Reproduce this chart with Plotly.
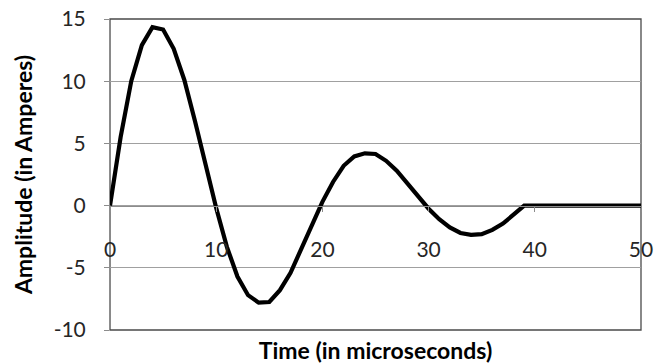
import plotly.graph_objects as go

time_us = list(range(0, 51))
amplitude = [0, 5.5, 10.0, 12.9, 14.35, 14.15, 12.6, 10.1, 6.8, 3.3,
             -0.2, -3.3, -5.7, -7.2, -7.8, -7.75, -6.8, -5.4, -3.5, -1.5,
             0.3, 1.9, 3.2, 3.95, 4.2, 4.15, 3.6, 2.8, 1.8, 0.75,
             -0.25, -1.1, -1.75, -2.2, -2.35, -2.3, -1.95, -1.45, -0.7, 0,
             0, 0, 0, 0, 0, 0, 0, 0, 0, 0, 0]
x_ticks = [0, 10, 20, 30, 40, 50]
x_tick_labels = ["0", "10", "20", "30", "40", "50"]
y_ticks = [-10, -5, 0, 5, 10, 15]
y_tick_labels = ["-10", "-5", "0", "5", "10", "15"]

FONT = "Lato"
TXT = "#262626"

fig = go.Figure()
fig.add_trace(go.Scatter(x=time_us, y=amplitude, mode="lines",
                         line=dict(color="black", width=4.2),
                         hoverinfo="skip", showlegend=False))

fig.update_layout(
    width=665, height=364,
    margin=dict(l=110, r=24, t=19, b=34),
    paper_bgcolor="white", plot_bgcolor="white",
    font=dict(family=FONT, size=21, color=TXT),
    xaxis=dict(range=[0, 50], tickvals=x_ticks, ticktext=x_tick_labels,
               anchor="free", position=0.4, automargin=False,
               showgrid=False, zeroline=False, showline=True,
               linecolor="#8c8c8c", linewidth=1,
               ticks="outside", ticklen=5, tickcolor="#8c8c8c",
               ticklabelstandoff=20,
               tickfont=dict(family=FONT, size=21, color=TXT),
               title=dict(text="<b>Time (in microseconds)</b>",
                          font=dict(family=FONT, size=23, color="black"),
                          standoff=84)),
    yaxis=dict(range=[-10, 15], tickvals=y_ticks, ticktext=y_tick_labels,
               domain=[0, 1], automargin=False,
               showgrid=True, gridcolor="#a0a0a0", gridwidth=1,
               zeroline=False, showline=True, linecolor="#8c8c8c", linewidth=1,
               ticks="outside", ticklen=5, tickcolor="#8c8c8c",
               ticklabelstandoff=14,
               tickfont=dict(family=FONT, size=21, color=TXT),
               title=dict(text="<b>Amplitude (in Amperes)</b>",
                          font=dict(family=FONT, size=23, color="black"),
                          standoff=14)),
    shapes=[dict(type="rect", xref="x domain", yref="y domain",
                 x0=0, x1=1, y0=0, y1=1,
                 line=dict(color="#4a4a4a", width=1.3), layer="below")],
)

fig.write_html("out.html", config={"displayModeBar": False},
               post_script="document.body.style.margin='0';")
